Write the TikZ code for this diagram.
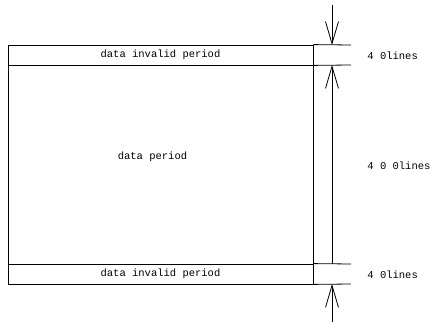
\documentclass[tikz,border=0pt]{standalone}
\usepackage{fontspec}
\setmonofont{Liberation Mono}
\usetikzlibrary{arrows.meta}

\begin{document}
\begin{tikzpicture}[x=1pt,y=-1pt,line width=0.8pt,
    band/.style={draw, minimum width=305pt, inner sep=0pt, font=\fontsize{10.5}{12}\ttfamily},
    dim/.style={-{Straight Barb[length=22pt,width=13pt]}},
    lbl/.style={anchor=west, inner sep=0pt, font=\fontsize{10.5}{12}\ttfamily}]
    \useasboundingbox (0,0) rectangle (437,323);
    \node(top)[band, minimum height=20pt] at (160.5,55) {data invalid period};
    \node(body)[band, minimum height=199pt] at (160.5,164.5) {};
    \node(bottom)[band, minimum height=20pt] at (160.5,274) {data invalid period};
    \node(bodytext)[font=\fontsize{10.5}{12}\ttfamily] at (152.5,157) {data period};
    % extension lines
    \coordinate(e1) at (351,45);
    \coordinate(e2) at (351,65);
    \coordinate(e3) at (351,264);
    \coordinate(e4) at (351,284);
    \draw (top.north east) -- (e1);
    \draw (top.south east) -- (e2);
    \draw (bottom.north east) -- (e3);
    \draw (bottom.south east) -- (e4);
    % dimension arrows
    \coordinate(a1) at (332,5);
    \coordinate(a2) at (332,45);
    \coordinate(a3) at (332,65);
    \coordinate(a4) at (332,264);
    \coordinate(a5) at (332,284);
    \coordinate(a6) at (332,322);
    \draw[dim] (a1) -- (a2);
    \draw[dim, {Straight Barb[length=22pt,width=13pt]}-] (a3) -- (a4);
    \draw[dim] (a6) -- (a5);
    \node(n1)[lbl] at (367,55.5) {4 0lines};
    \node(n2)[lbl] at (367,166) {4 0 0lines};
    \node(n3)[lbl] at (367,274.5) {4 0lines};
\end{tikzpicture}
\end{document}
